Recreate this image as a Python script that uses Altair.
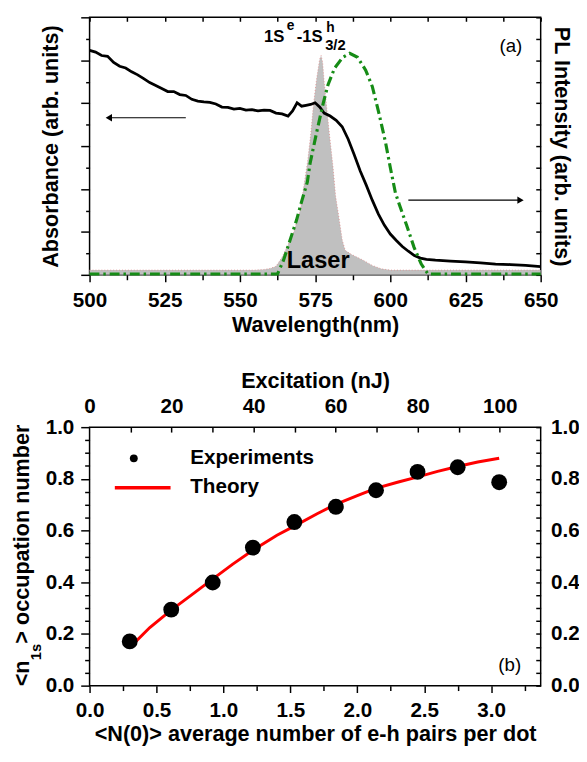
import altair as alt
import pandas as pd

FONT = "Liberation Sans"

# ---------------- Panel (a) data ----------------
abs_wl = [500, 502, 504, 506, 508, 510, 512, 514, 516, 518, 520, 522, 524, 526, 528, 530, 532, 534,
          536, 538, 540, 542, 544, 546, 548, 550, 552, 554, 556, 558, 560, 562, 564, 566,
          567.5, 569, 570.5, 572, 573.5, 575, 576.5, 578,
          580, 582, 584, 586, 588, 590, 592, 594, 596, 598, 600, 602, 604, 606, 608, 610, 612,
          615, 620, 625, 630, 635, 640, 645, 650]
abs_val = [5.23, 5.19, 5.11, 5.09, 4.95, 4.86, 4.82, 4.73, 4.66, 4.57, 4.48, 4.41, 4.34, 4.27, 4.27,
           4.20, 4.18, 4.09, 4.05, 4.03, 4.02, 3.98, 3.91, 3.90, 3.86, 3.88, 3.84, 3.85, 3.82, 3.84,
           3.83, 3.77, 3.75, 3.70,
           3.82, 4.01, 3.93, 3.95, 3.97, 4.01, 3.91, 3.77,
           3.70, 3.60, 3.45, 3.16, 2.80, 2.42, 2.09, 1.74, 1.42, 1.16, 0.95, 0.80, 0.66, 0.55, 0.45,
           0.39, 0.36,
           0.34, 0.32, 0.30, 0.28, 0.25, 0.24, 0.22, 0.19]

laser_wl = [500, 555, 558, 560, 562, 564, 566, 568, 570, 571.5, 572.5, 573.5, 574.5, 575.5, 576.5,
            577, 577.5, 578, 578.7, 579.8, 581, 581.8, 582.8, 584, 585, 587, 589, 591, 594, 597,
            600, 650]
laser_val = [0.11, 0.11, 0.125, 0.15, 0.20, 0.41, 0.70, 1.02, 1.50, 2.18, 2.64, 3.25, 4.00, 4.57,
             5.02, 5.11, 4.95, 4.50, 4.00, 3.25, 2.48, 1.84, 1.39, 0.82, 0.57, 0.48, 0.41, 0.34,
             0.22, 0.14, 0.11, 0.11]

pl_wl = [500, 562.5, 564.5, 566.3, 568.8, 570.6, 572.4, 573.3, 575.5, 577.7, 579.3, 581.5, 584.2,
         586.5, 589.1, 591.8, 594, 596.2, 598.4, 600, 601.7, 603, 605.4, 607.9, 610.3, 612.5, 650]
pl_val = [0.02, 0.02, 0.34, 0.73, 1.27, 1.73, 2.16, 2.59, 3.32, 4.00, 4.43, 4.82, 5.07, 5.16, 5.07,
          4.77, 4.39, 3.77, 3.09, 2.50, 1.91, 1.64, 1.16, 0.64, 0.25, 0.02, 0.02]

arrow_tail = [532.0, 606.0]
arrow_tip = [506.4, 643.3]
arrow_level = [3.66, 1.74]
arrow_dir = ["left", "right"]

wl_major = [500, 525, 550, 575, 600, 625, 650]
wl_minor = [512.5, 537.5, 562.5, 587.5, 612.5, 637.5]
wl_all = [500, 512.5, 525, 537.5, 550, 562.5, 575, 587.5, 600, 612.5, 625, 637.5, 650]
abs_major = [0, 1, 2, 3, 4, 5, 6]
abs_minor = [0.5, 1.5, 2.5, 3.5, 4.5, 5.5]
abs_all = [0, 0.5, 1, 1.5, 2, 2.5, 3, 3.5, 4, 4.5, 5, 5.5, 6]

# ---------------- Panel (b) data ----------------
n_exp = [0.30, 0.61, 0.92, 1.22, 1.53, 1.84, 2.14, 2.45, 2.75, 3.06]
occ_exp = [0.171, 0.294, 0.399, 0.534, 0.633, 0.692, 0.756, 0.827, 0.845, 0.787]
excitation = [10, 20, 30, 40, 50, 60, 70, 80, 90, 100]

n_theory = [0.305, 0.45, 0.607, 0.76, 0.914, 1.07, 1.222, 1.40, 1.533, 1.70, 1.834, 2.0, 2.138,
            2.3, 2.446, 2.6, 2.749, 2.9, 3.06]
occ_theory = [0.150, 0.225, 0.291, 0.35, 0.41, 0.47, 0.525, 0.582, 0.618, 0.665, 0.70, 0.735,
              0.763, 0.787, 0.807, 0.829, 0.848, 0.865, 0.880]

n_major = [0, 0.5, 1.0, 1.5, 2.0, 2.5, 3.0]
n_minor = [0.25, 0.75, 1.25, 1.75, 2.25, 2.75, 3.25]
occ_major = [0, 0.2, 0.4, 0.6, 0.8, 1.0]
occ_minor = [0.05, 0.1, 0.15, 0.25, 0.3, 0.35, 0.45, 0.5, 0.55, 0.65, 0.7, 0.75, 0.85, 0.9, 0.95]
occ_all = [0, 0.05, 0.1, 0.15, 0.2, 0.25, 0.3, 0.35, 0.4, 0.45, 0.5, 0.55, 0.6, 0.65, 0.7,
           0.75, 0.8, 0.85, 0.9, 0.95, 1.0]
e_major = [0, 20, 40, 60, 80, 100]
e_all = [10, 20, 30, 40, 50, 60, 70, 80, 90, 100]

W, H1, H2 = 459, 262, 263

LBL = dict(labelFont=FONT, labelFontWeight="bold", labelFontSize=21, labelColor="black",
           titleFont=FONT, titleFontWeight="bold", titleFontSize=22, titleColor="black")


def text_layer(t, x, y, size, weight="bold", align="left", baseline="alphabetic", angle=None):
    kw = dict(font=FONT, fontSize=size, fontWeight=weight, align=align, baseline=baseline,
              color="black")
    if angle is not None:
        kw["angle"] = angle
    return alt.Chart(pd.DataFrame({"t": [t]})).mark_text(**kw).encode(
        x=alt.value(x), y=alt.value(y), text="t:N")


def ghost(df, xf, sx, xaxis, yf, sy, yaxis):
    return alt.Chart(df).mark_point(opacity=0).encode(
        x=alt.X(xf, scale=sx, axis=xaxis), y=alt.Y(yf, scale=sy, axis=yaxis))


# ---------------- Panel (a) ----------------
sx_a = alt.Scale(domain=[500, 650], nice=False, zero=False)
sy_a = alt.Scale(domain=[0, 6], nice=False, zero=False)

df_abs = pd.DataFrame({"wl": abs_wl, "v": abs_val})
df_laser = pd.DataFrame({"wl": laser_wl, "v": laser_val})
df_pl = pd.DataFrame({"wl": pl_wl, "v": pl_val})
df_arrow = pd.DataFrame({"tail": arrow_tail, "tip": arrow_tip, "v": arrow_level, "dir": arrow_dir})

XA = alt.X("wl:Q", scale=sx_a, axis=None)
YA = alt.Y("v:Q", scale=sy_a, axis=None)

laser_area = alt.Chart(df_laser).mark_area(color="#c0c0c0", opacity=1).encode(x=XA, y=YA)
laser_edge = alt.Chart(df_laser).mark_line(color="#e08a8a", strokeWidth=0.8,
                                           strokeDash=[1, 2]).encode(x=XA, y=YA)
abs_line = alt.Chart(df_abs).mark_line(color="black", strokeWidth=2.8).encode(x=XA, y=YA)
pl_line = alt.Chart(df_pl).mark_line(color="#168c16", strokeWidth=3.2,
                                     strokeDash=[10, 4, 2.5, 4]).encode(x=XA, y=YA)

arrow_shaft = alt.Chart(df_arrow).mark_rule(color="black", strokeWidth=1.2).encode(
    x=alt.X("tail:Q", scale=sx_a, axis=None), x2="tip:Q", y=alt.Y("v:Q", scale=sy_a, axis=None))
arrow_head = alt.Chart(df_arrow).mark_point(filled=True, color="black", opacity=1, size=55).encode(
    x=alt.X("tip:Q", scale=sx_a, axis=None), y=alt.Y("v:Q", scale=sy_a, axis=None),
    shape=alt.Shape("dir:N", scale=alt.Scale(domain=["left", "right"],
                                              range=["triangle-left", "triangle-right"]),
                    legend=None))

axis_a_major = ghost(
    df_abs, "wl:Q", sx_a,
    alt.Axis(orient="bottom", values=wl_major, format="d", tickSize=7, labelPadding=8,
             title="Wavelength(nm)", titlePadding=5, **LBL),
    "v:Q", sy_a,
    alt.Axis(orient="left", values=abs_major, labels=False, tickSize=9,
             title="Absorbance (arb. units)", titlePadding=18, **LBL))
axis_a_minor = ghost(
    df_abs, "wl:Q", sx_a,
    alt.Axis(orient="bottom", values=wl_minor, labels=False, tickSize=5, title=None),
    "v:Q", sy_a,
    alt.Axis(orient="left", values=abs_minor, labels=False, tickSize=4, title=None))
axis_a_inner = ghost(
    df_abs, "wl:Q", sx_a,
    alt.Axis(orient="bottom", offset=-H1, values=wl_all, labels=False, tickSize=4, title=None),
    "v:Q", sy_a,
    alt.Axis(orient="left", offset=-W, values=abs_all, labels=False, tickSize=5, title=None))
axis_a_right = ghost(
    df_abs, "wl:Q", sx_a, None,
    "v:Q", sy_a,
    alt.Axis(orient="right", ticks=False, labels=False,
             title="PL Intensity (arb. units)", titlePadding=9, **LBL))

panel_a = alt.layer(
    laser_area, laser_edge, abs_line, pl_line, arrow_shaft, arrow_head,
    text_layer("Laser", 232.6, 248, 24, align="center", baseline="middle"),
    text_layer("(a)", 428.7, 29, 19, weight="normal", align="center", baseline="middle"),
    text_layer("1S", 177.4, 25.3, 17),
    text_layer("e", 200.7, 13, 14),
    text_layer("-1S", 210.7, 25.3, 17),
    text_layer("h", 240.7, 15, 14),
    text_layer("3/2", 239.7, 33, 15),
    axis_a_major, axis_a_minor, axis_a_inner, axis_a_right,
).resolve_axis(x="independent", y="independent").properties(width=W, height=H1)

# ---------------- Panel (b) ----------------
sx_n = alt.Scale(domain=[0, 3.37], nice=False, zero=False)
sx_e = alt.Scale(domain=[0, 110], nice=False, zero=False)
sy_b = alt.Scale(domain=[0, 1], nice=False, zero=False)

df_exp = pd.DataFrame({"n": n_exp, "o": occ_exp, "e": excitation})
df_th = pd.DataFrame({"n": n_theory, "o": occ_theory})

theory = alt.Chart(df_th).mark_line(color="#ff0000", strokeWidth=3).encode(
    x=alt.X("n:Q", scale=sx_n, axis=None), y=alt.Y("o:Q", scale=sy_b, axis=None))
exper = alt.Chart(df_exp).mark_circle(color="black", opacity=1, size=260).encode(
    x=alt.X("n:Q", scale=sx_n, axis=None), y=alt.Y("o:Q", scale=sy_b, axis=None))

leg_dot = alt.Chart(pd.DataFrame({"k": [0]})).mark_circle(color="black", opacity=1, size=64).encode(
    x=alt.value(45), y=alt.value(31.7))
leg_line = alt.Chart(pd.DataFrame({"k": [0]})).mark_rule(color="#ff0000", strokeWidth=3.5).encode(
    x=alt.value(25.7), x2=alt.value(82.4), y=alt.value(61.7))

axis_b_major = ghost(
    df_exp, "n:Q", sx_n,
    alt.Axis(orient="bottom", values=n_major, format=".1f", tickSize=7, labelPadding=7,
             title="<N(0)> average number of e-h pairs per dot", titlePadding=4, **LBL),
    "o:Q", sy_b,
    alt.Axis(orient="left", values=occ_major, format=".1f", tickSize=9, labelPadding=7,
             title=None, **LBL))
axis_b_minor = ghost(
    df_exp, "n:Q", sx_n,
    alt.Axis(orient="bottom", values=n_minor, labels=False, tickSize=5, title=None),
    "o:Q", sy_b,
    alt.Axis(orient="left", values=occ_minor, labels=False, tickSize=5, title=None))
axis_b_energy = ghost(
    df_exp, "e:Q", sx_e,
    alt.Axis(orient="top", values=e_major, format="d", ticks=False, labelPadding=11,
             title="Excitation (nJ)", titlePadding=3, **LBL),
    "o:Q", sy_b,
    alt.Axis(orient="right", values=occ_major, format=".1f", ticks=False, labelPadding=10,
             title=None, **LBL))
axis_b_inner = ghost(
    df_exp, "e:Q", sx_e,
    alt.Axis(orient="bottom", offset=-H2, values=e_all, labels=False, tickSize=5, title=None),
    "o:Q", sy_b,
    alt.Axis(orient="left", offset=-W, values=occ_all, labels=False, tickSize=5, title=None))

panel_b = alt.layer(
    theory, exper, leg_dot, leg_line,
    text_layer("Experiments", 102.4, 31.7, 21, baseline="middle"),
    text_layer("Theory", 102.4, 60.5, 21, baseline="middle"),
    text_layer("(b)", 427.5, 241.7, 19, weight="normal", align="center", baseline="middle"),
    text_layer("<n", -61.8, 263.7, 22, angle=270),
    text_layer("1s", -49.3, 237.2, 15, angle=270),
    text_layer("> occupation number", -61.8, 220.3, 22, angle=270),
    axis_b_major, axis_b_minor, axis_b_energy, axis_b_inner,
).resolve_scale(x="independent").resolve_axis(x="independent", y="independent").properties(
    width=W, height=H2)

chart = alt.vconcat(panel_a, panel_b, spacing=33).properties(
    padding={"left": 2, "top": 1, "right": -1, "bottom": -1}
).configure_view(stroke="black", strokeWidth=1.5).configure_axis(
    grid=False, domain=False, tickColor="black", tickWidth=1.5,
    labelColor="black", titleColor="black", labelFont=FONT, titleFont=FONT,
    labelFontWeight="bold", titleFontWeight="bold", labelFontSize=21, titleFontSize=22,
    labelFlush=False, labelOverlap=False
).configure_text(font=FONT)

chart.save("out.html", embed_options={"renderer": "svg", "actions": False})
